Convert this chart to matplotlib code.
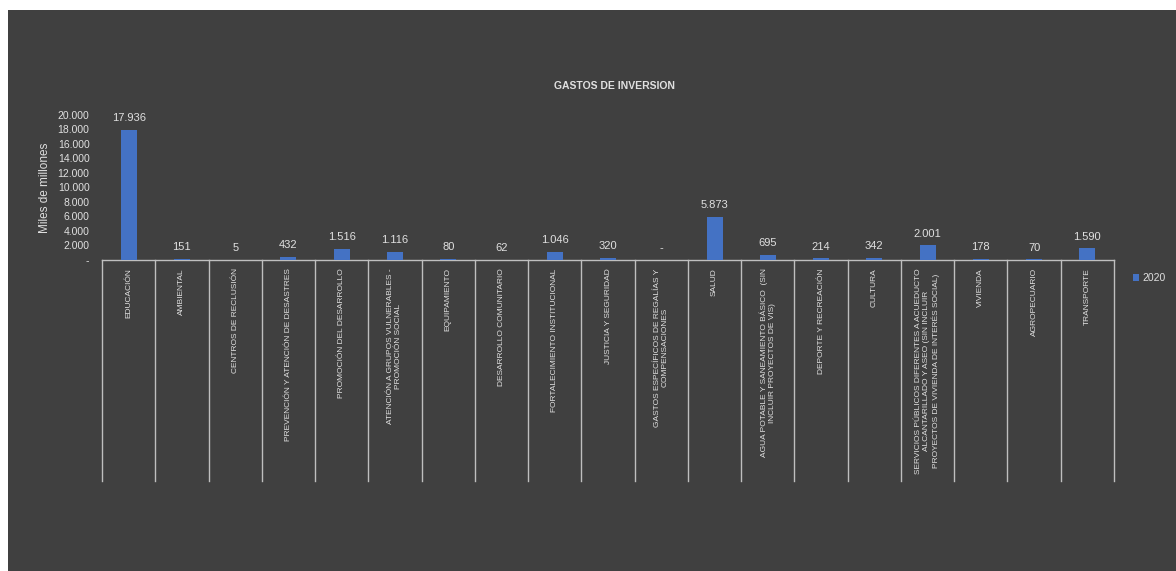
import matplotlib.pyplot as plt
from matplotlib.patches import Rectangle

categories = [
    "EDUCACIÓN",
    "AMBIENTAL",
    "CENTROS DE RECLUSIÓN",
    "PREVENCIÓN Y ATENCIÓN DE DESASTRES",
    "PROMOCIÓN DEL DESARROLLO",
    "ATENCIÓN A GRUPOS VULNERABLES -\nPROMOCIÓN SOCIAL",
    "EQUIPAMIENTO",
    "DESARROLLO COMUNITARIO",
    "FORTALECIMIENTO INSTITUCIONAL",
    "JUSTICIA Y SEGURIDAD",
    "GASTOS ESPECÍFICOS DE REGALÍAS Y\nCOMPENSACIONES",
    "SALUD",
    "AGUA POTABLE Y SANEAMIENTO BÁSICO  (SIN\nINCLUIR PROYECTOS DE VIS)",
    "DEPORTE Y RECREACIÓN",
    "CULTURA",
    "SERVICIOS PÚBLICOS DIFERENTES A ACUEDUCTO\nALCANTARILLADO Y ASEO (SIN INCLUIR\nPROYECTOS DE VIVIENDA DE INTERÉS SOCIAL)",
    "VIVIENDA",
    "AGROPECUARIO",
    "TRANSPORTE",
]
values_2020 = [17936, 151, 5, 432, 1516, 1116, 80, 62, 1046, 320, 0,
               5873, 695, 214, 342, 2001, 178, 70, 1590]
yticks = [0, 2000, 4000, 6000, 8000, 10000, 12000, 14000, 16000, 18000, 20000]

bg = "#404040"
fg = "#e0e0e0"
line_col = "#bfbfbf"
bar_col = "#4472C4"


def fmt(v):
    return "-" if v == 0 else f"{v:,.0f}".replace(",", ".")


plt.rcParams["font.family"] = ["Liberation Sans", "DejaVu Sans"]

W, H = 1176, 571
fig = plt.figure(figsize=(W / 100, H / 100), dpi=100, facecolor="white")
fig.patches.append(Rectangle((8 / W, 0), (W - 8) / W, (H - 10) / H,
                             transform=fig.transFigure, facecolor=bg,
                             edgecolor="none", zorder=-10))

left, right = 102 / W, 1114 / W
bottom, top = 1 - 260 / H, 1 - 115 / H
ax = fig.add_axes([left, bottom, right - left, top - bottom])
ax.set_facecolor("none")

x = list(range(len(categories)))
ax.bar(x, values_2020, width=0.3, color=bar_col, label="2020", zorder=3)
ax.set_xlim(-0.5, len(categories) - 0.5)
ax.set_ylim(0, 20000)

for xi, v in zip(x, values_2020):
    ax.annotate(fmt(v), (xi, v), xytext=(0, 5), textcoords="offset points",
                ha="center", va="bottom", fontsize=8, color=fg)

ax.set_yticks(yticks)
ax.set_yticklabels([fmt(v) for v in yticks])
ax.set_xticks(x)
ax.set_xticklabels(categories, rotation=90, fontsize=6, color=fg,
                   multialignment="center", va="top", ha="center")
ax.tick_params(axis="y", length=0, labelsize=7.5, labelcolor=fg, pad=9)
ax.tick_params(axis="x", length=0, pad=6)

for s in ["left", "right", "top"]:
    ax.spines[s].set_visible(False)
ax.spines["bottom"].set_color(line_col)
ax.spines["bottom"].set_linewidth(1)

# category separators below the axis
axes_h = 145
depth = -(481 - 260) / axes_h
for b in [i - 0.5 for i in range(len(categories) + 1)]:
    ax.plot([b, b], [0, depth], transform=ax.get_xaxis_transform(),
            color=line_col, lw=1, clip_on=False)

ax.set_ylabel("Miles de millones", fontsize=8.5, color=fg, labelpad=5)

fig.text(615 / W, 1 - 86 / H, "GASTOS DE INVERSION", ha="center", va="center",
         fontsize=7.5, fontweight="bold", color=fg)

ax.legend(loc="center left", bbox_to_anchor=(1133 / W, 1 - 278 / H),
          bbox_transform=fig.transFigure, frameon=False, fontsize=7.5,
          labelcolor=fg, handlelength=0.6, handleheight=0.6,
          handletextpad=0.3, borderpad=0, borderaxespad=0)

fig.savefig("out.png", dpi=100, facecolor="white")
